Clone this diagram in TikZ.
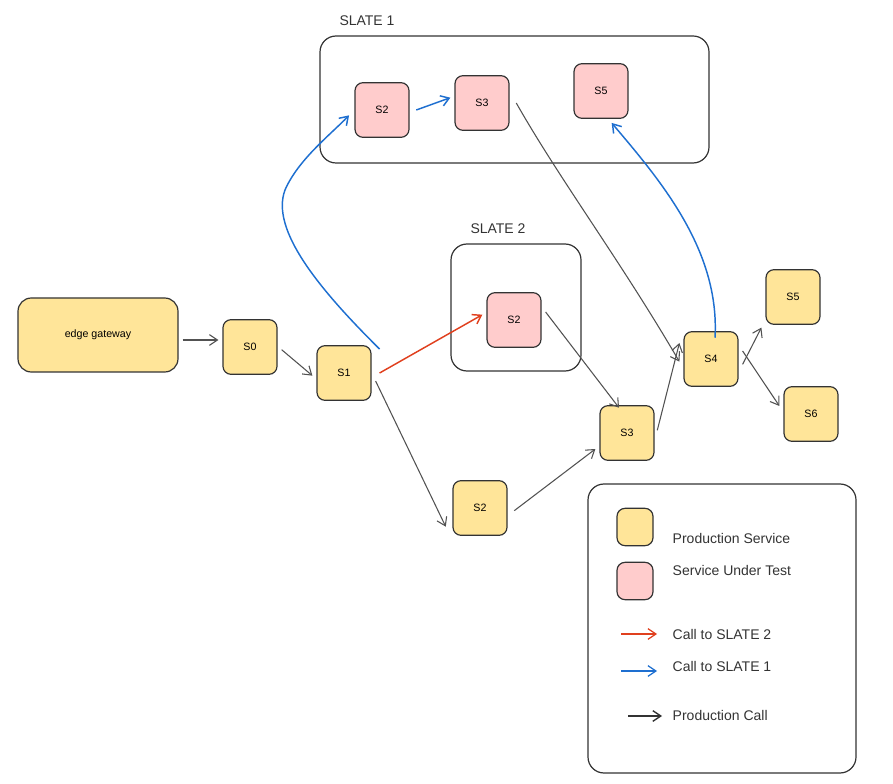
\documentclass[tikz,border=0pt]{standalone}
\usepackage{fontspec}
\setmainfont{Liberation Sans}
\usetikzlibrary{arrows.meta}
\definecolor{yel}{HTML}{FFE599}
\definecolor{pnk}{HTML}{FFCCCC}
\definecolor{redc}{HTML}{E0401E}
\definecolor{bluec}{HTML}{1E6FD0}
\definecolor{ink}{HTML}{333333}
\begin{document}
\begin{tikzpicture}[x=0.75pt,y=-0.75pt,
  svc/.style={draw=ink,line width=0.9pt,rounded corners=6pt,minimum width=40.5pt,minimum height=41pt,font=\fontsize{8}{10}\selectfont,inner sep=0pt},
  prod/.style={svc,fill=yel},
  test/.style={svc,fill=pnk},
  grp/.style={draw=ink,line width=0.9pt,rounded corners=12pt},
  arr/.style={-{Straight Barb[length=6pt,width=8pt]},line width=0.8pt,draw=ink!85},
  redarr/.style={arr,draw=redc,line width=1.1pt},
  bluearr/.style={arr,draw=bluec,line width=1.1pt},
  lbl/.style={font=\fontsize{10.5}{12}\selectfont,anchor=west,text=ink}]
\useasboundingbox (0,0) rectangle (893,784);
% groups
\draw[grp] (320,36) rectangle (709,163);
\node[font=\fontsize{10.5}{12}\selectfont,text=ink] (l1) at (367,21) {SLATE 1};
\draw[grp] (451,244) rectangle (581,371);
\node[font=\fontsize{10.5}{12}\selectfont,text=ink] (l2) at (498,229) {SLATE 2};
% nodes
\node[prod,minimum width=120pt,minimum height=55.5pt,rounded corners=10pt] (gw) at (98,335) {edge gateway};
\node[prod] (s0) at (250,347) {S0};
\node[prod] (s1) at (344,373) {S1};
\node[test] (a2) at (382,110) {S2};
\node[test] (a3) at (482,103) {S3};
\node[test] (a5) at (601,91) {S5};
\node[test] (b2) at (514,320) {S2};
\node[prod] (p3) at (627,433) {S3};
\node[prod] (p2) at (480,508) {S2};
\node[prod] (s4) at (711,359) {S4};
\node[prod] (s5) at (793,297) {S5};
\node[prod] (s6) at (811,414) {S6};
% edges
\draw[arr] (gw.east) ++(4,5) -- ([xshift=-3pt]s0.west |- 0,340);
\draw[arr] ([xshift=3pt,yshift=-2pt]s0.east) -- ([shift={(-3pt,-2pt)}]s1.west);
\draw[bluearr] ([xshift=6pt,yshift=-3pt]s1.north east) .. controls (320,290) and (270,230) .. (285,190) .. controls (298,160) and (330,135) .. ([shift={(-4pt,-4pt)}]a2.west);
\draw[bluearr] ([xshift=5pt]a2.east) -- ([xshift=-3pt,yshift=4pt]a3.west);
\draw[redarr] ([xshift=6pt]s1.east) -- ([xshift=-3pt,yshift=4pt]b2.west);
\draw[arr] ([xshift=3pt,yshift=-6pt]s1.east) -- ([xshift=-5pt,yshift=-14pt]p2.west);
\draw[arr] ([xshift=3pt,yshift=6pt]b2.east) -- ([xshift=-6pt,yshift=-2pt]p3.north);
\draw[arr] ([xshift=5pt]a3.east) .. controls (560,180) and (620,260) .. ([xshift=-3pt,yshift=-2pt]s4.west);
\draw[arr] ([xshift=5pt,yshift=-2pt]p2.east) -- ([xshift=-3pt,yshift=-12pt]p3.west);
\draw[arr] ([xshift=2pt,yshift=2pt]p3.east) -- ([xshift=-3pt,yshift=12pt]s4.west);
\draw[bluearr] ([xshift=3pt,yshift=-5pt]s4.north) .. controls (720,250) and (660,180) .. ([xshift=8pt,yshift=-3pt]a5.south);
\draw[arr] ([xshift=3pt,yshift=-4pt]s4.east) -- ([xshift=-3pt,yshift=-2pt]s5.south west);
\draw[arr] ([xshift=3pt,yshift=6pt]s4.east) -- ([xshift=-3pt,yshift=6pt]s6.west);
% legend
\draw[grp] (588,484) rectangle (856,773);
\node[prod,minimum width=27pt,minimum height=28pt] (ly) at (635,527) {};
\node[lbl] (ty) at (668,538) {Production Service};
\node[test,minimum width=27pt,minimum height=28pt] (lp) at (635,581) {};
\node[lbl] (tp) at (668,570) {Service Under Test};
\coordinate (r1) at (621,634); \coordinate (r2) at (657,634);
\draw[redarr,line width=0.9pt] (r1) -- (r2);
\node[lbl] (tr) at (668,634) {Call to SLATE 2};
\coordinate (b1) at (621,671); \coordinate (b2e) at (657,671);
\draw[bluearr,line width=0.9pt] (b1) -- (b2e);
\node[lbl] (tb) at (668,666) {Call to SLATE 1};
\coordinate (k1) at (628,716); \coordinate (k2) at (662,716);
\draw[arr,draw=ink,line width=1pt] (k1) -- (k2);
\node[lbl] (tk) at (668,715) {Production Call};
\end{tikzpicture}
\end{document}
